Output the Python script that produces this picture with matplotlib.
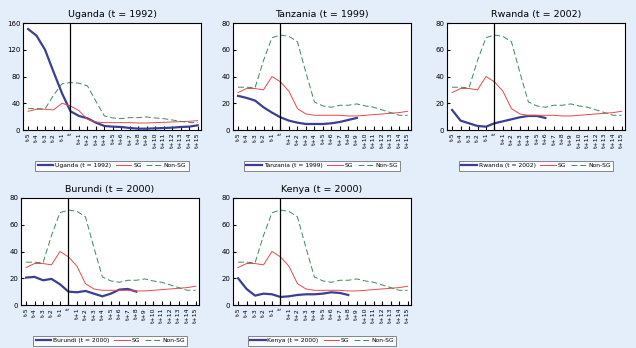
import numpy as np
import matplotlib.pyplot as plt

# x categories: t-5 ... t+15
periods = ['t-5', 't-4', 't-3', 't-2', 't-1', 't'] + ['t+%d' % i for i in range(1, 16)]

# benchmark paths (same in every panel)
sg = [28, 31, 31, 30, 40, 36, 29, 16, 12, 11, 11, 11, 11, 10.5, 10.5, 11, 11.5, 12, 12.5, 13, 14]
non_sg = [32, 32, 31.5, 52, 69, 71, 70, 66, 43, 21, 18, 17, 18.5, 18.5, 19.5, 18, 17, 15, 13, 11, 11]

# country paths
uganda = [151, 141, 120, 87, 55, 28, 21, 17.5, 11, 6, 5, 4.5, 3, 2, 2, 2.5, 3, 3.5, 4.5, 5, 7]
tanzania = [25.5, 24, 22, 17, 13, 9.5, 7, 5.5, 4.5, 4.5, 4.5, 5, 6, 7.5, 9]
rwanda = [15, 7, 5, 3, 2.5, 5, 6.5, 8, 9.5, 10.5, 10.5, 9]
burundi = [20.5, 21, 18.5, 19.5, 15.5, 10, 9.5, 10.5, 8.5, 6.5, 8.5, 11.5, 12, 10]
kenya = [20, 12, 7, 8.5, 8, 6, 6.5, 7.5, 8, 8, 8.5, 9.5, 9, 7.5]

panels = [
    ('Uganda', 1992, uganda, 160, [0, 40, 80, 120, 160]),
    ('Tanzania', 1999, tanzania, 80, [0, 20, 40, 60, 80]),
    ('Rwanda', 2002, rwanda, 80, [0, 20, 40, 60, 80]),
    ('Burundi', 2000, burundi, 80, [0, 20, 40, 60, 80]),
    ('Kenya', 2000, kenya, 80, [0, 20, 40, 60, 80]),
]

bg = '#e4eefb'
fig = plt.figure(figsize=(6.36, 3.48), dpi=100, facecolor=bg)

lefts = [23, 233, 447, 21, 233]
tops = [23, 23, 23, 198, 198]
W, H = 636.0, 348.0
aw, ah = 178, 107

x = np.arange(len(periods))

for (name, yr, vals, ymax, yt), l, t in zip(panels, lefts, tops):
    ax = fig.add_axes([l / W, 1 - (t + ah) / H, aw / W, ah / H])
    ax.set_facecolor('white')
    ax.plot(x[:len(vals)], vals, color='#3b3f94', lw=1.6,
            label='%s (t = %d)' % (name, yr))
    ax.plot(x, sg, color='#e8474c', lw=0.7, label='SG')
    ax.plot(x, non_sg, color='#3a8a5a', lw=0.7, ls=(0, (6, 3)), label='Non-SG')
    ax.axvline(5, color='black', lw=0.9)
    ax.set_xlim(-0.6, 20.4)
    ax.set_ylim(0, ymax)
    ax.set_yticks(yt)
    ax.set_xticks(x)
    ax.set_xticklabels(periods, rotation=90, fontsize=4.5)
    ax.tick_params(axis='x', direction='in', length=3, width=0.8, pad=2)
    ax.tick_params(axis='y', direction='in', length=2, labelsize=5, pad=2)
    for s in ax.spines.values():
        s.set_linewidth(0.8)
    ax.set_title('%s (t = %d)' % (name, yr), fontsize=6.8, pad=4)
    leg = ax.legend(loc='upper center', bbox_to_anchor=(0.5, -0.26), ncol=3,
                    fontsize=4.3, frameon=True, fancybox=False, handlelength=2.6,
                    columnspacing=0.8, handletextpad=0.3, borderpad=0.4)
    leg.get_frame().set_edgecolor('#555555')
    leg.get_frame().set_linewidth(0.6)

fig.savefig('out.png', dpi=100, facecolor=bg)
